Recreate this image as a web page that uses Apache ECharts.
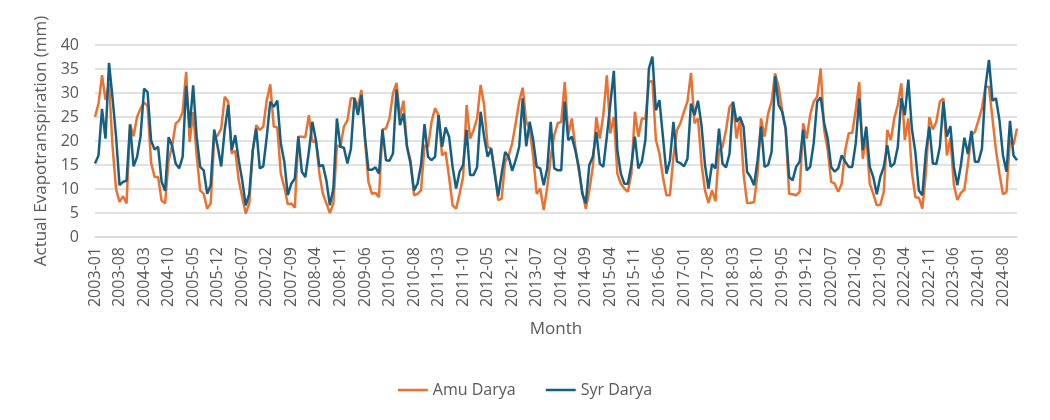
<!DOCTYPE html>
<html>
<head>
<meta charset="utf-8">
<title>Actual Evapotranspiration</title>
<script src="https://cdn.jsdelivr.net/npm/echarts@6/dist/echarts.min.js"></script>
<style>
    html, body { margin: 0; padding: 0; background: #fff; }
    #chart { width: 1050px; height: 420px; }
</style>
</head>
<body>
<div id="chart"></div>
<script>
// monthly series, Jan 2003 .. Dec 2024 (one row per year)
var amuDarya = [
    25, 27.8, 33.7, 28.6, 32, 19, 10, 7.3, 8.5, 7.0, 23.5, 21,
    25, 26.8, 28, 27.3, 15.5, 12.5, 12.5, 7.6, 7, 16, 19, 23.6,
    24.3, 26, 34.4, 19.8, 26, 17, 9.7, 9, 5.9, 7, 20.5, 21.2,
    22.6, 29.2, 28.2, 17.4, 18, 11.8, 8.3, 4.9, 7, 18, 23.3, 22.3,
    23, 28.5, 31.8, 23, 22.8, 13.2, 10.4, 6.8, 7, 6.1, 20.9, 20.9,
    20.8, 25.4, 19.8, 20.2, 13.2, 9, 7, 5, 7, 19.1, 18.8, 23,
    24.3, 28.9, 28.9, 27.1, 30.6, 20.2, 11.5, 9, 9.2, 8.3, 22.4, 22.6,
    24.7, 29.9, 32.1, 25, 28.4, 18.8, 16, 8.7, 9, 9.7, 19.1, 18.8,
    24, 26.8, 25.4, 17, 17.7, 12.5, 6.6, 5.9, 9, 12.5, 27.5, 20.5,
    22.3, 24.7, 31.7, 27.5, 18.8, 18.4, 13.9, 7.7, 8, 15.7, 17, 19.5,
    23.7, 28.2, 31.1, 24, 22.6, 16.7, 9, 10.1, 5.6, 10.4, 16.7, 21.2,
    23.7, 24, 32.3, 21.2, 24.7, 18.8, 13.9, 9.4, 5.9, 9.7, 14.6, 25,
    20.5, 25.4, 33.7, 21.6, 25, 13.2, 11.1, 10.1, 9.4, 13.2, 26.1, 20.9,
    24.7, 24.7, 32.3, 32.5, 20.2, 17.4, 12.5, 8.7, 8.7, 16.7, 22.3, 23.7,
    26.1, 28.2, 34.2, 23.7, 24.7, 15.3, 9.7, 7.1, 9.7, 7.5, 18.1, 18.8,
    22.3, 27.1, 28, 20.5, 24.7, 13.2, 7.1, 7.1, 7.3, 13.2, 24.7, 20.9,
    25.7, 28.2, 34.1, 31.3, 26.4, 22.6, 9, 8.9, 8.7, 9.4, 23.7, 20.5,
    25.4, 28.2, 29.2, 35.1, 22.3, 18.1, 11.5, 11.1, 9.4, 11.1, 18.1, 21.6,
    21.7, 26.4, 32.3, 16.3, 20.9, 11.1, 9, 6.6, 6.7, 9.4, 22.3, 20.2,
    24.7, 27.5, 32, 20.2, 24.7, 13.6, 8.3, 8.2, 5.9, 13.2, 25, 22.4,
    24, 28.2, 28.9, 17, 20.7, 10.8, 7.7, 9.2, 9.9, 15.3, 21.2, 21.9,
    24.3, 26.8, 31.3, 31.3, 24.7, 18.1, 13.2, 8.9, 9.4, 20.2, 19.3, 22.6
];

var syrDarya = [
    15.3, 17, 26.7, 20.5, 36.3, 29, 21, 10.8, 11.5, 11.7, 23.4, 14.7,
    16.7, 21, 30.9, 30.2, 20.1, 18.2, 18.8, 11.5, 9.6, 20.8, 19, 15.3,
    14.3, 16.7, 31.5, 22.8, 31.6, 20.9, 14.6, 13.9, 9, 10.8, 22.4, 18.8,
    14.7, 22.3, 27.5, 18.1, 21.2, 16, 11.8, 6.6, 9, 18, 22.6, 14.3,
    14.7, 20.9, 28.2, 27.1, 28.4, 19.5, 15.7, 8.7, 11.1, 12.2, 20.9, 13.6,
    12.5, 17.7, 24, 20.2, 14.7, 15, 11.8, 6.6, 10.1, 24.7, 18.8, 18.6,
    15.3, 18.4, 28.9, 25.4, 29.6, 20.9, 14, 14, 14.5, 13.2, 22.4, 16,
    15.9, 17.4, 30.7, 23.3, 25.7, 18.8, 15.3, 9.7, 11.1, 15, 23.5, 16.7,
    16, 16.7, 25.4, 18.8, 22.8, 20.9, 14.6, 10.1, 13.6, 15, 22.3, 12.9,
    12.9, 14.6, 26.1, 20.9, 16.7, 18.4, 13.2, 8.5, 13.2, 17.7, 16.7, 13.8,
    16, 18.8, 28.9, 18.9, 24, 20.2, 14.6, 14.3, 10.8, 14.3, 24, 14.3,
    13.9, 13.9, 28.2, 20.2, 20.9, 18.1, 14.6, 9, 7, 15, 16.7, 21.9,
    15.3, 14.6, 20.9, 27.8, 34.6, 18.1, 13.2, 11.1, 11.1, 15, 20.9, 14.3,
    15.7, 20.2, 35.1, 37.6, 26.4, 28.5, 20.9, 13.2, 16, 24, 15.7, 15.4,
    14.7, 16.3, 27.8, 25.4, 28.4, 23.3, 15, 10.1, 15.2, 14.3, 22.6, 15.3,
    14.5, 17.4, 28.2, 24, 25, 23, 13.6, 12.5, 10.8, 16, 23, 14.6,
    15, 17.7, 33.5, 27.5, 26.1, 22.6, 12.5, 11.8, 14.6, 15.7, 22.3, 13.9,
    14.6, 19.5, 28.2, 29.1, 23.7, 20.5, 14.6, 13.6, 14.3, 17, 15.7, 14.6,
    14.6, 19.5, 28.9, 18.1, 23, 14.6, 12.5, 8.9, 12.5, 14.6, 19.1, 14.6,
    15.3, 18.8, 28.9, 25.4, 32.8, 22.6, 17.7, 9.7, 8.7, 17.7, 23, 15.3,
    15.2, 18.8, 28.2, 20.9, 23.1, 14.6, 10.8, 15, 20.7, 17.3, 22.1, 15.7,
    15.7, 18.4, 31.3, 36.9, 28.4, 28.9, 24.3, 17, 13.6, 24.2, 17, 16
];

var firstYear = 2003;
var lastYear = 2024;
var yTicks = [0, 5, 10, 15, 20, 25, 30, 35, 40];

var months = [];
for (var y = firstYear; y <= lastYear; y++) {
    for (var m = 1; m <= 12; m++) {
        months.push(y + '-' + (m < 10 ? '0' + m : m));
    }
}

var chartDom = document.getElementById('chart');
var myChart = echarts.init(chartDom);
var option;

var textColor = '#595959';
var fontFamily = '"Open Sans", "Noto Sans", sans-serif';

option = {
    animation: false,
    textStyle: { fontFamily: fontFamily },
    grid: {
        left: 95,
        right: 33,
        top: 45,
        bottom: 183
    },
    legend: {
        top: 377,
        left: 'center',
        icon: 'rect',
        itemWidth: 30,
        itemHeight: 2.5,
        itemGap: 30,
        textStyle: { color: textColor, fontSize: 16, fontFamily: fontFamily },
        data: ['Amu Darya', 'Syr Darya']
    },
    xAxis: {
        type: 'category',
        data: months,
        boundaryGap: false,
        name: 'Month',
        nameLocation: 'middle',
        nameGap: 84,
        nameTextStyle: { color: textColor, fontSize: 17, fontFamily: fontFamily },
        axisLine: { lineStyle: { color: '#D9D9D9', width: 1.5 } },
        axisTick: { show: false },
        axisLabel: {
            rotate: 90,
            interval: 6,
            margin: 10,
            color: textColor,
            fontSize: 16,
            fontFamily: fontFamily
        }
    },
    yAxis: {
        type: 'value',
        min: yTicks[0],
        max: yTicks[yTicks.length - 1],
        interval: yTicks[1] - yTicks[0],
        name: 'Actual Evapotranspiration (mm)',
        nameLocation: 'middle',
        nameGap: 42,
        nameTextStyle: { color: textColor, fontSize: 17, fontFamily: fontFamily },
        axisLine: { show: false },
        axisTick: { show: false },
        axisLabel: { color: textColor, fontSize: 16, margin: 16, fontFamily: fontFamily },
        splitLine: { lineStyle: { color: '#D9D9D9', width: 1.5 } }
    },
    series: [
        {
            name: 'Amu Darya',
            type: 'line',
            data: amuDarya,
            symbol: 'none',
            lineStyle: { color: '#E97132', width: 2.5 },
            itemStyle: { color: '#E97132' }
        },
        {
            name: 'Syr Darya',
            type: 'line',
            data: syrDarya,
            symbol: 'none',
            lineStyle: { color: '#156082', width: 2.5 },
            itemStyle: { color: '#156082' }
        }
    ]
};

option && myChart.setOption(option);
</script>
</body>
</html>
